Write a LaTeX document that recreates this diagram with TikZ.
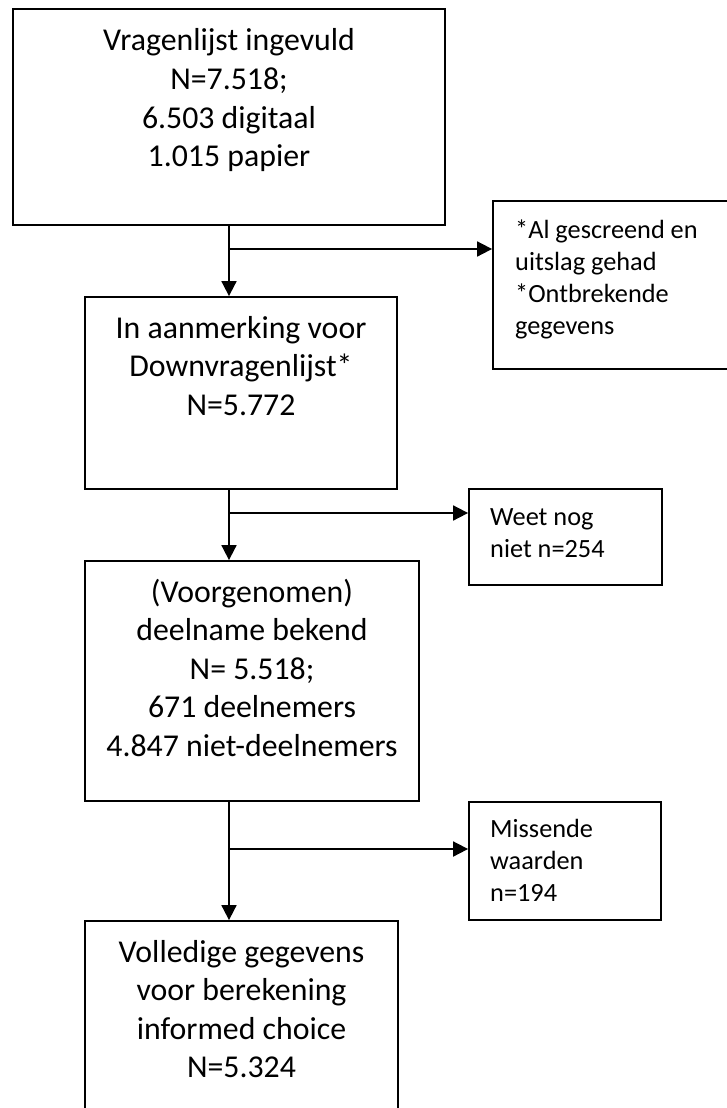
\documentclass[tikz,border=0pt]{standalone}
\usepackage{fontspec}
\setmainfont{Carlito}
\usetikzlibrary{arrows.meta}
\tikzset{
  box/.style={draw=black, line width=1.8pt, rectangle, inner sep=0pt, fill=none},
  bigtxt/.style={inner sep=0pt, anchor=base, font=\fontsize{31.8}{38.6}\selectfont},
  smalltxt/.style={inner sep=0pt, anchor=base west, font=\fontsize{26.3}{32.2}\selectfont},
  arr/.style={line width=1.8pt, -{Triangle[length=15pt,width=15pt]}},
}
\begin{document}
\begin{tikzpicture}[x=1pt,y=-1pt]
\useasboundingbox (0,0) rectangle (727,1108);
% main boxes
\node[box, minimum width=432pt, minimum height=216pt] (b1) at (229,117) {};
\node[box, minimum width=312pt, minimum height=192pt] (b2) at (241,393) {};
\node[box, minimum width=334pt, minimum height=240pt] (b3) at (252,681) {};
\node[box, minimum width=313pt, minimum height=260pt] (b4) at (241.5,1051) {};
% side boxes
\node[box, minimum width=250pt, minimum height=168pt] (s1) at (618,285) {};
\node[box, minimum width=193pt, minimum height=96pt] (s2) at (565.5,537) {};
\node[box, minimum width=192pt, minimum height=118pt] (s3) at (565,861) {};
% texts
\node[bigtxt] (t1) at (229,51) {\begin{tabular}[t]{@{}c@{}}Vragenlijst ingevuld\\N=7.518;\\6.503 digitaal\\1.015 papier\end{tabular}};
\node[bigtxt] (t2) at (241,338) {\begin{tabular}[t]{@{}c@{}}In aanmerking voor\\Downvragenlijst*\\N=5.772\end{tabular}};
\node[bigtxt] (t3) at (252,602) {\begin{tabular}[t]{@{}c@{}}(Voorgenomen)\\deelname bekend\\N= 5.518;\\671 deelnemers\\4.847 niet-deelnemers\end{tabular}};
\node[bigtxt] (t4) at (241.5,962) {\begin{tabular}[t]{@{}c@{}}Volledige gegevens\\voor berekening\\informed choice\\N=5.324\end{tabular}};
\node[smalltxt] (u1) at (515,238) {\begin{tabular}[t]{@{}l@{}}{*}Al gescreend en\\uitslag gehad\\{*}Ontbrekende\\gegevens\end{tabular}};
\node[smalltxt] (u2) at (490,525) {\begin{tabular}[t]{@{}l@{}}Weet nog\\niet n=254\end{tabular}};
\node[smalltxt] (u3) at (490,837) {\begin{tabular}[t]{@{}l@{}}Missende\\waarden\\n=194\end{tabular}};
% connectors
\coordinate (x1) at (229,225);
\coordinate (j1) at (229,249);
\coordinate (j2) at (229,513);
\coordinate (j3) at (229,849);
\draw[arr] (x1) -- (x1 |- b2.north);
\draw[arr] (j1) -- (j1 -| s1.west);
\draw[arr] (x1 |- b2.south) -- (x1 |- b3.north);
\draw[arr] (j2) -- (j2 -| s2.west);
\draw[arr] (x1 |- b3.south) -- (x1 |- b4.north);
\draw[arr] (j3) -- (j3 -| s3.west);
\end{tikzpicture}
\end{document}
